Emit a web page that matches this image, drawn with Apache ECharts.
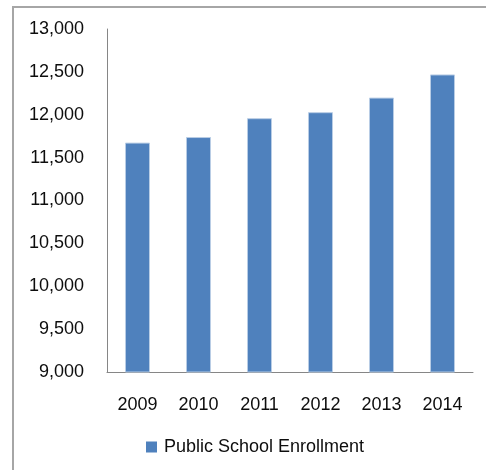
<!DOCTYPE html>
<html>
<head>
<meta charset="utf-8">
<script src="https://cdn.jsdelivr.net/npm/echarts@6/dist/echarts.min.js"></script>
<style>
  html, body { margin: 0; padding: 0; background: #fff; }
  #chart { width: 486px; height: 470px; }
</style>
</head>
<body>
<div id="chart"></div>
<script>
// Enrollment by school year
const years = ['2009', '2010', '2011', '2012', '2013', '2014'];
const enrollment = [11675, 11740, 11960, 12030, 12200, 12470];
const seriesName = 'Public School Enrollment';
const yMin = 9000;
const yMax = 13000;
const yStep = 500;

const chart = echarts.init(document.getElementById('chart'), null, { renderer: 'canvas' });
const font = 'Liberation Sans, Arial, sans-serif';

chart.setOption({
  animation: false,
  backgroundColor: '#ffffff',
  graphic: [{
    type: 'rect',
    shape: { x: 13, y: 7, width: 520, height: 520 },
    style: { fill: 'none', stroke: '#a6a6a6', lineWidth: 2 },
    silent: true
  }],
  grid: { left: 107, top: 29, right: 13, bottom: 98, containLabel: false },
  xAxis: {
    type: 'category',
    data: years,
    axisLine: { lineStyle: { color: '#868686', width: 1 } },
    axisTick: { show: false },
    axisLabel: { color: '#0d0d0d', fontFamily: font, fontSize: 18, margin: 24 }
  },
  yAxis: {
    type: 'value',
    min: yMin,
    max: yMax,
    interval: yStep,
    axisLine: { show: true, lineStyle: { color: '#868686', width: 1 } },
    axisTick: { show: false },
    splitLine: { show: false },
    axisLabel: {
      color: '#0d0d0d', fontFamily: font, fontSize: 18, margin: 23,
      formatter: v => v.toLocaleString('en-US')
    }
  },
  legend: {
    bottom: 14,
    left: 146,
    padding: 0,
    itemWidth: 11,
    itemHeight: 11,
    itemGap: 10,
    icon: 'rect',
    itemStyle: { borderWidth: 0 },
    textStyle: { color: '#0d0d0d', fontFamily: font, fontSize: 18, padding: [0, 0, 0, 2] },
    data: [seriesName]
  },
  series: [{
    name: seriesName,
    type: 'bar',
    data: enrollment,
    barWidth: '41%',
    itemStyle: { color: '#4f81bd', borderColor: '#b9cde5', borderWidth: 1 }
  }]
});
</script>
</body>
</html>
